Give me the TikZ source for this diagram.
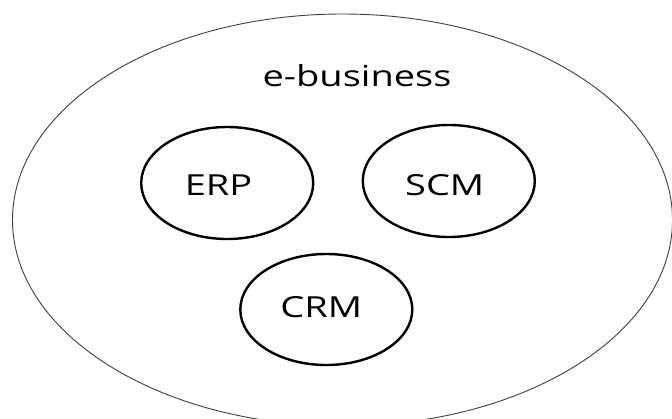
\documentclass[tikz,border=0pt]{standalone}
\usepackage{fontspec}
\setmainfont{Open Sans}
\usetikzlibrary{shapes.geometric}
\begin{document}
\begin{tikzpicture}[x=1pt,y=-1pt,
  outer/.style={draw=black!75, line width=0.9pt, ellipse, inner sep=0pt},
  sys/.style={draw=black, line width=2.4pt, ellipse, inner sep=0pt, minimum width=172pt, minimum height=112pt},
  lbl/.style={anchor=base, inner sep=0pt, text=black, font=\fontsize{29}{30}\selectfont, xscale=1.31, transform shape}]
\useasboundingbox (0,0) rectangle (672,418);
\clip (0,0) rectangle (672,418);
\fill[white] (0,0) rectangle (672,418);
\node[outer, minimum width=660pt, minimum height=412pt] (eb) at (342.5,220) {};
\node[sys] (erp) at (227.2,183) {};
\node[sys] (scm) at (448.8,181) {};
\node[sys, minimum height=111pt] (crm) at (326.3,309.5) {};
\node[lbl] (ebt) at (357,86.7) {e-business};
\node[lbl] (erpt) at (218.6,195) {ERP};
\node[lbl] (scmt) at (444.7,195) {SCM};
\node[lbl] (crmt) at (321.2,317.7) {CRM};
\end{tikzpicture}
\end{document}
